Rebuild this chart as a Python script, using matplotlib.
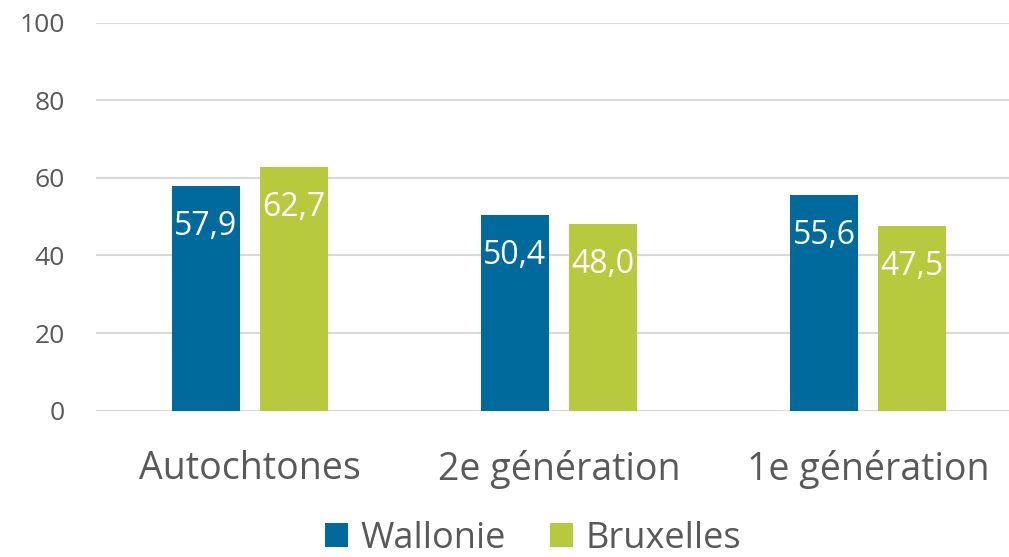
"""Bar chart: Wallonie vs Bruxelles by generation."""

import matplotlib

matplotlib.use("Agg")

import matplotlib.pyplot as plt
import numpy as np
from matplotlib.patches import Patch

CATEGORIES = ["Autochtones", "2e génération", "1e génération"]
SERIES = ["Wallonie", "Bruxelles"]
WALLONIE = [57.9, 50.4, 55.6]
BRUXELLES = [62.7, 48.0, 47.5]
Y_TICKS = [0, 20, 40, 60, 80, 100]

COLORS = ["#006A9C", "#B7C93C"]
TEXT_COLOR = "#595959"
GRID_COLOR = "#D9D9D9"

plt.rcParams["font.family"] = ["Open Sans", "DejaVu Sans"]

W, H = 1009, 557
fig = plt.figure(figsize=(W / 100, H / 100), dpi=100)
# axes spans slightly past the right edge, like the original
ax = fig.add_axes([95.5 / W, (H - 410.7) / H, 927 / W, 388 / H])

x = np.arange(len(CATEGORIES))
width = 0.223
offset = 0.1424
for values, color, sign in ((WALLONIE, COLORS[0], -1), (BRUXELLES, COLORS[1], 1)):
    bars = ax.bar(x + sign * offset, values, width, color=color, zorder=3)
    for bar, v in zip(bars, values):
        ax.annotate(
            f"{v:.1f}".replace(".", ","),
            (bar.get_x() + bar.get_width() / 2, v),
            xytext=(0, -17), textcoords="offset points",
            ha="center", va="top", color="white", fontsize=23, zorder=4,
        )

ax.set_xlim(-0.5, 2.5)
ax.set_ylim(0, 100)
ax.set_yticks(Y_TICKS)
ax.set_yticklabels([str(t) for t in Y_TICKS])
ax.set_xticks(x)
ax.set_xticklabels(CATEGORIES)
ax.yaxis.grid(True, color=GRID_COLOR, linewidth=1.5, zorder=0)
for side in ("top", "right", "left", "bottom"):
    ax.spines[side].set_visible(False)
ax.tick_params(axis="y", length=0, labelsize=19, labelcolor=TEXT_COLOR, pad=22)
ax.tick_params(axis="x", length=0, labelsize=27, labelcolor=TEXT_COLOR, pad=28)

handles = [Patch(facecolor=c, label=s) for c, s in zip(COLORS, SERIES)]
fig.legend(
    handles=handles, loc="center", bbox_to_anchor=(533 / W, 1 - 539 / H),
    ncol=2, frameon=False, fontsize=26, labelcolor=TEXT_COLOR,
    handlelength=0.64, handleheight=0.64, handletextpad=0.35, columnspacing=1.2,
)

fig.savefig("out.png", dpi=100)
plt.close(fig)
